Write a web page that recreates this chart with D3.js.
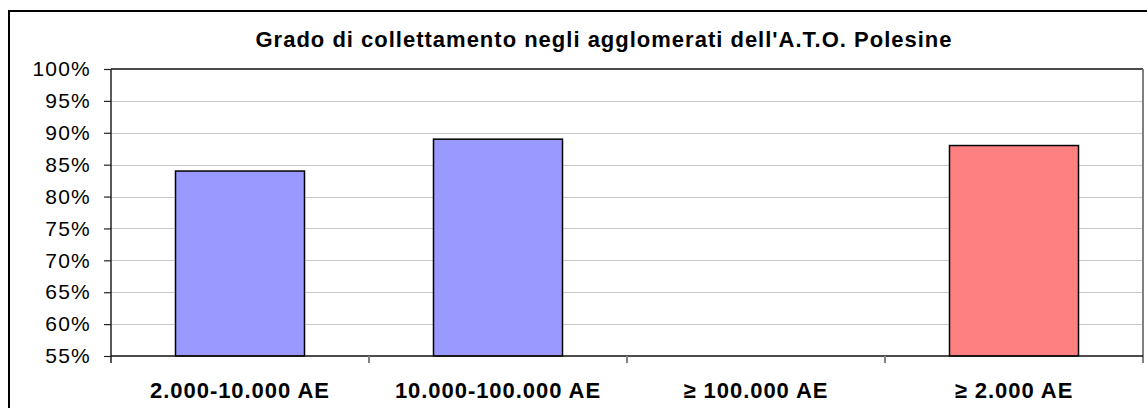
<!DOCTYPE html>
<html>
<head>
<meta charset="utf-8">
<script src="https://cdn.jsdelivr.net/npm/d3@7"></script>
<style>
  body { margin: 0; background: #fff; }
  svg { display: block; font-family: Arial, "Liberation Sans", sans-serif; }
</style>
</head>
<body>
<svg id="chart" width="1147" height="408"></svg>
<script>
// data
var categories = ["2.000-10.000 AE", "10.000-100.000 AE", "\u2265 100.000 AE", "\u2265 2.000 AE"];
var values = [84, 89, null, 88];
var yTicks = [55, 60, 65, 70, 75, 80, 85, 90, 95, 100];
var chartTitle = "Grado di collettamento negli agglomerati dell'A.T.O. Polesine";

var barColors = ["#9999ff", "#9999ff", "#9999ff", "#ff8080"];

var svg = d3.select("#chart");
var plot = { left: 111, right: 1143, top: 69, bottom: 356 };

// outer chart border (runs off the picture on the right / bottom)
svg.append("rect")
    .attr("x", 9).attr("y", 11)
    .attr("width", 1200).attr("height", 500)
    .attr("fill", "none")
    .attr("stroke", "#000")
    .attr("stroke-width", 2);

var x = d3.scaleBand()
    .domain(categories)
    .range([plot.left, plot.right])
    .paddingInner(0.5)
    .paddingOuter(0.25);

var y = d3.scaleLinear()
    .domain([55, 100])
    .range([plot.bottom, plot.top]);

// gridlines
svg.append("g")
    .selectAll("line")
    .data(yTicks.slice(1, -1))
    .join("line")
    .attr("x1", plot.left).attr("x2", plot.right)
    .attr("y1", function(d){ return Math.round(y(d)) + 0.5; })
    .attr("y2", function(d){ return Math.round(y(d)) + 0.5; })
    .attr("stroke", "#c8c8c8")
    .attr("stroke-width", 1.2);

// plot frame: black top, gray right
svg.append("line")
    .attr("x1", plot.left).attr("x2", plot.right)
    .attr("y1", plot.top).attr("y2", plot.top)
    .attr("stroke", "#111").attr("stroke-width", 1.5);
svg.append("line")
    .attr("x1", plot.right).attr("x2", plot.right)
    .attr("y1", plot.top).attr("y2", plot.bottom + 7)
    .attr("stroke", "#808080").attr("stroke-width", 2);

// bars
svg.append("g")
    .selectAll("rect")
    .data(categories.map(function(c, i){ return { cat: c, v: values[i], i: i }; })
        .filter(function(d){ return d.v != null; }))
    .join("rect")
    .attr("x", function(d){ return x(d.cat); })
    .attr("width", x.bandwidth())
    .attr("y", function(d){ return y(d.v); })
    .attr("height", function(d){ return plot.bottom - y(d.v); })
    .attr("fill", function(d){ return barColors[d.i]; })
    .attr("stroke", "#000")
    .attr("stroke-width", 1.5);

// y axis
var yAxis = d3.axisLeft(y)
    .tickValues(yTicks)
    .tickSize(7)
    .tickPadding(13)
    .tickFormat(function(d){ return d + "%"; });

var gy = svg.append("g")
    .attr("transform", "translate(" + plot.left + ",0)")
    .call(yAxis);
gy.select(".domain").remove();
gy.selectAll(".tick line").attr("stroke", "#222").attr("stroke-width", 1.2);
gy.selectAll(".tick text")
    .attr("font-size", 21)
    .attr("letter-spacing", 1.2)
    .attr("fill", "#000")
    .attr("font-family", "Arial, 'Liberation Sans', sans-serif");
gy.append("line")
    .attr("x1", 0).attr("x2", 0)
    .attr("y1", plot.top).attr("y2", plot.bottom + 7)
    .attr("stroke", "#222").attr("stroke-width", 1.5);

// x axis line + category ticks between bands
svg.append("line")
    .attr("x1", plot.left).attr("x2", plot.right)
    .attr("y1", plot.bottom).attr("y2", plot.bottom)
    .attr("stroke", "#111").attr("stroke-width", 1.5);

var step = x.step();
svg.append("g")
    .selectAll("line")
    .data(categories.slice(1))
    .join("line")
    .attr("x1", function(d){ return x(d) - step * 0.25; })
    .attr("x2", function(d){ return x(d) - step * 0.25; })
    .attr("y1", plot.bottom).attr("y2", plot.bottom + 7)
    .attr("stroke", "#808080").attr("stroke-width", 2);

// category labels
svg.append("g")
    .selectAll("text")
    .data(categories)
    .join("text")
    .attr("x", function(d){ return x(d) + x.bandwidth() / 2; })
    .attr("y", 398)
    .attr("text-anchor", "middle")
    .attr("font-size", 22)
    .attr("letter-spacing", 0.95)
    .attr("font-weight", "bold")
    .text(function(d){ return d; });

// title
svg.append("text")
    .attr("x", 604)
    .attr("y", 47)
    .attr("text-anchor", "middle")
    .attr("font-size", 22)
    .attr("letter-spacing", 1)
    .attr("font-weight", "bold")
    .text(chartTitle);
</script>
</body>
</html>
